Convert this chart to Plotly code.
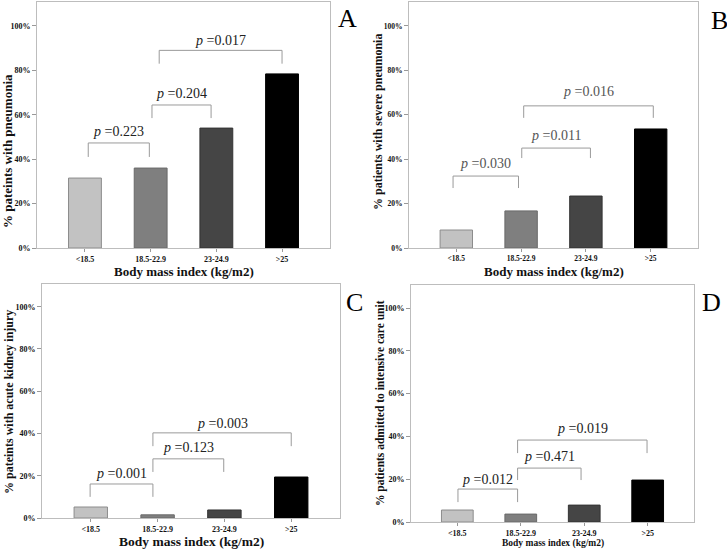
import plotly.graph_objects as go

# ---------------- data ----------------
categories = ["<18.5", "18.5-22.9", "23-24.9", ">25"]

pneumonia = [31.5, 36.0, 54.0, 78.4]
severe_pneumonia = [8.1, 16.7, 23.4, 53.6]
acute_kidney_injury = [5.2, 1.5, 3.8, 19.4]
icu_admission = [5.6, 3.7, 7.9, 19.6]

p_pneumonia = ["0.223", "0.204", "0.017"]
p_severe = ["0.030", "0.011", "0.016"]
p_aki = ["0.001", "0.123", "0.003"]
p_icu = ["0.012", "0.471", "0.019"]

ytick_values = [0, 20, 40, 60, 80, 100]
ytick_labels = ["0%", "20%", "40%", "60%", "80%", "100%"]

# ---------------- styling / layout ----------------
W, H = 727, 549
bar_colors = ["#c2c2c2", "#7f7f7f", "#454545", "#000000"]
bar_lines = ["#8c8c8c", "#6a6a6a", "#333333", "#000000"]
SERIF = "Liberation Serif, Times New Roman, serif"


def px_x(p):
    return p / W


def px_y(p):
    return 1 - p / H


panels = [
    dict(values=pneumonia, pvals=p_pneumonia, letter="A",
         xdom=(37, 330), y0=248, ytop=1.5,
         ytitle="% pateints with pneumonia", ytitle_size=13, ytitle_x=7, ytitle_y=151,
         xtitle_y=271, xtitle_size=13, tick_size=8, ptext_size=14, ptext_color="#222222",
         letter_xy=(347, 18),
         brackets=[(0.05, 0.98, 47.3, 41.0, 52.3), (1.02, 1.92, 64.4, 58.5, 69.5),
                   (1.13, 3.0, 89.0, 83.0, 93.5)]),
    dict(values=severe_pneumonia, pvals=p_severe, letter="B",
         xdom=(409, 698), y0=248, ytop=1.5,
         ytitle="% patients with severe pneumonia", ytitle_size=12, ytitle_x=378, ytitle_y=122,
         xtitle_y=271, xtitle_size=13, tick_size=7.5, ptext_size=14, ptext_color="#555555",
         letter_xy=(719, 20),
         brackets=[(-0.05, 0.96, 32.4, 27.0, 38.0), (1.01, 2.07, 45.0, 40.5, 50.5),
                   (1.04, 3.04, 64.0, 58.6, 70.5)]),
    dict(values=acute_kidney_injury, pvals=p_aki, letter="C",
         xdom=(42, 340), y0=518, ytop=283.5,
         ytitle="% pateints with acute kidney injury", ytitle_size=12, ytitle_x=9, ytitle_y=402,
         xtitle_y=541.5, xtitle_size=13.5, tick_size=8, ptext_size=14, ptext_color="#222222",
         letter_xy=(354, 302),
         brackets=[(-0.01, 0.93, 16.1, 10.0, 21.3), (0.93, 1.99, 28.0, 21.8, 33.3),
                   (0.93, 3.0, 40.3, 34.0, 44.5)]),
    dict(values=icu_admission, pvals=p_icu, letter="D",
         xdom=(411, 694), y0=522, ytop=284.5,
         ytitle="% patients admitted to intensive care unit", ytitle_size=11.5, ytitle_x=380, ytitle_y=403,
         xtitle_y=543.5, xtitle_size=9.5, tick_size=8, ptext_size=14, ptext_color="#222222",
         letter_xy=(711, 303),
         brackets=[(0.01, 0.95, 15.4, 9.3, 19.8), (0.95, 1.95, 25.2, 19.6, 30.5),
                   (0.95, 2.99, 38.3, 32.2, 43.5)]),
]

fig = go.Figure()
annotations = []
layout_axes = {}

for k, pn in enumerate(panels):
    n = k + 1
    xa = "x" if n == 1 else f"x{n}"
    ya = "y" if n == 1 else f"y{n}"
    xkey = "xaxis" if n == 1 else f"xaxis{n}"
    ykey = "yaxis" if n == 1 else f"yaxis{n}"

    fig.add_trace(go.Bar(
        x=list(range(len(categories))), y=pn["values"], width=0.5,
        marker=dict(color=bar_colors, line=dict(color=bar_lines, width=1)),
        xaxis=xa, yaxis=ya, showlegend=False, hoverinfo="skip"))

    for (x0, x1, yt, yl, ytx), pv in zip(pn["brackets"], pn["pvals"]):
        fig.add_trace(go.Scatter(
            x=[x0, x0, x1, x1], y=[yl, yt, yt, yl], mode="lines",
            line=dict(color="#9a9a9a", width=1), xaxis=xa, yaxis=ya,
            showlegend=False, hoverinfo="skip"))
        annotations.append(dict(
            x=(x0 + x1) / 2, y=ytx, xref=xa, yref=ya, showarrow=False,
            text=f"<i>p</i> =" + pv, yanchor="middle", xanchor="center",
            font=dict(family=SERIF, size=pn["ptext_size"], color=pn["ptext_color"])))

    tickfont = dict(family=SERIF, size=pn["tick_size"], color="#111111", weight="bold")
    layout_axes[xkey] = dict(
        domain=[px_x(pn["xdom"][0]), px_x(pn["xdom"][1])],
        range=[-0.73, 3.73], anchor=ya, automargin=False,
        tickmode="array", tickvals=list(range(len(categories))), ticktext=categories,
        ticks="outside", ticklen=3, tickcolor="#999999",
        showline=True, linecolor="#bdbdbd", linewidth=1, mirror=True,
        showgrid=False, zeroline=False, fixedrange=True, tickfont=tickfont)
    layout_axes[ykey] = dict(
        domain=[px_y(pn["y0"]), px_y(pn["ytop"])],
        range=[0, 111], anchor=xa, automargin=False,
        tickmode="array", tickvals=ytick_values, ticktext=ytick_labels,
        ticks="outside", ticklen=4, tickcolor="#999999",
        showline=True, linecolor="#bdbdbd", linewidth=1, mirror=True,
        showgrid=False, zeroline=False, fixedrange=True, tickfont=tickfont)

    # y axis title
    annotations.append(dict(
        x=px_x(pn["ytitle_x"]), y=px_y(pn["ytitle_y"]), xref="paper", yref="paper",
        text="<b>" + pn["ytitle"] + "</b>", textangle=-90, showarrow=False,
        xanchor="center", yanchor="middle",
        font=dict(family=SERIF, size=pn["ytitle_size"], color="#111111")))
    # x axis title
    annotations.append(dict(
        x=px_x((pn["xdom"][0] + pn["xdom"][1]) / 2), y=px_y(pn["xtitle_y"]),
        xref="paper", yref="paper",
        text="<b>Body mass index (kg/m2)</b>", showarrow=False,
        xanchor="center", yanchor="middle",
        font=dict(family=SERIF, size=pn["xtitle_size"], color="#111111")))
    # panel letter
    annotations.append(dict(
        x=px_x(pn["letter_xy"][0]), y=px_y(pn["letter_xy"][1]), xref="paper", yref="paper",
        text=pn["letter"], showarrow=False, xanchor="center", yanchor="middle",
        font=dict(family=SERIF, size=26, color="#000000")))

fig.update_layout(
    template="none",
    width=W, height=H,
    margin=dict(l=0, r=0, t=0, b=0, autoexpand=False),
    paper_bgcolor="white", plot_bgcolor="white",
    annotations=annotations,
    **layout_axes)

fig.write_html(
    "out.html",
    config={"displayModeBar": False},
    post_script="document.body.style.margin='0';document.body.style.overflow='hidden';",
)
